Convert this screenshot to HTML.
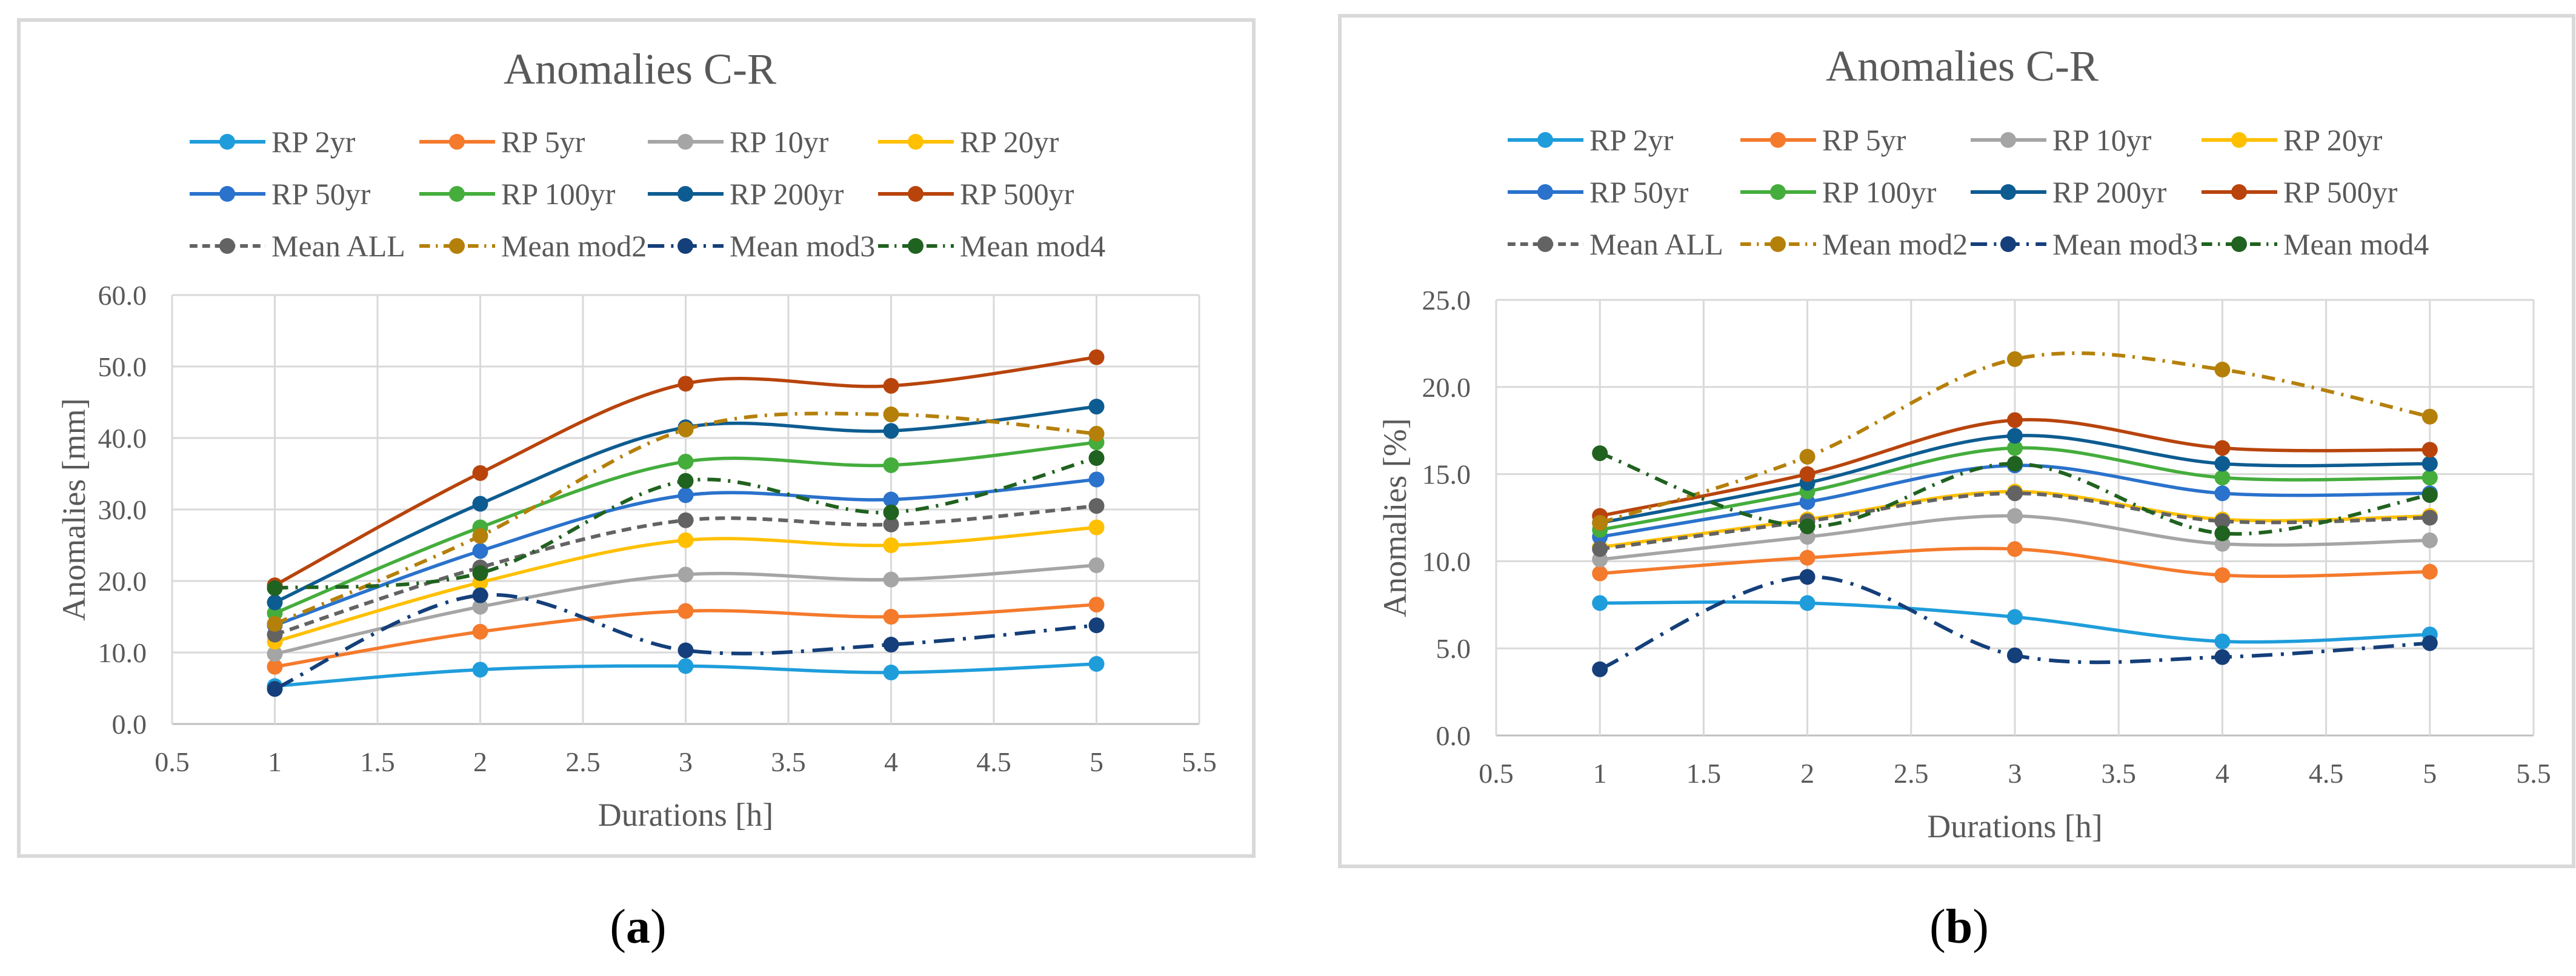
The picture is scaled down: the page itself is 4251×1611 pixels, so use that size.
<!DOCTYPE html>
<html><head><meta charset="utf-8">
<style>
html,body{margin:0;padding:0;background:#fff;}
body{width:4251px;height:1611px;position:relative;overflow:hidden;font-family:"Liberation Serif",serif;}
svg{position:absolute;left:0;top:0;}
</style></head>
<body>
<svg id="fig" width="4251" height="1611" viewBox="0 0 4251 1611"></svg>
<script>
const xValues = [1, 2, 3, 4, 5];
const xTicks = [0.5, 1, 1.5, 2, 2.5, 3, 3.5, 4, 4.5, 5, 5.5];
const seriesNames = ["RP 2yr","RP 5yr","RP 10yr","RP 20yr","RP 50yr","RP 100yr","RP 200yr","RP 500yr","Mean ALL","Mean mod2","Mean mod3","Mean mod4"];
const yTicksA = [0, 10, 20, 30, 40, 50, 60];
const yTicksB = [0, 5, 10, 15, 20, 25];
// Panel (a) values [mm]
const aRP2 = [5.3, 7.6, 8.1, 7.2, 8.4];
const aRP5 = [8.0, 12.9, 15.8, 15.0, 16.7];
const aRP10 = [9.8, 16.4, 20.9, 20.2, 22.2];
const aRP20 = [11.5, 19.8, 25.7, 25.0, 27.5];
const aRP50 = [13.8, 24.2, 32.0, 31.4, 34.2];
const aRP100 = [15.5, 27.5, 36.7, 36.2, 39.4];
const aRP200 = [17.0, 30.8, 41.5, 41.0, 44.4];
const aRP500 = [19.4, 35.1, 47.6, 47.3, 51.3];
const aMeanAll = [12.5, 21.9, 28.5, 27.9, 30.5];
const aMod2 = [14.0, 26.3, 41.2, 43.3, 40.6];
const aMod3 = [4.9, 18.0, 10.3, 11.1, 13.8];
const aMod4 = [19.0, 21.1, 34.0, 29.6, 37.2];
// Panel (b) values [%]
const bRP2 = [7.6, 7.6, 6.8, 5.4, 5.8];
const bRP5 = [9.3, 10.2, 10.7, 9.2, 9.4];
const bRP10 = [10.1, 11.4, 12.6, 11.0, 11.2];
const bRP20 = [10.8, 12.4, 14.0, 12.4, 12.6];
const bRP50 = [11.4, 13.4, 15.5, 13.9, 13.9];
const bRP100 = [11.8, 14.0, 16.5, 14.8, 14.8];
const bRP200 = [12.2, 14.5, 17.2, 15.6, 15.6];
const bRP500 = [12.6, 15.0, 18.1, 16.5, 16.4];
const bMeanAll = [10.7, 12.3, 13.9, 12.3, 12.5];
const bMod2 = [12.2, 16.0, 21.6, 21.0, 18.3];
const bMod3 = [3.8, 9.1, 4.6, 4.5, 5.3];
const bMod4 = [16.2, 12.0, 15.6, 11.6, 13.8];

const colors = ["#1f9ddb","#f47a2c","#a5a5a5","#ffc000","#2a72cc","#44ad3c","#0d5c91","#b8440c","#636363","#b5800a","#143f7a","#20621f"];
const dashes = [null,null,null,null,null,null,null,null,"16 10","22 12 4 12","34 14 5 14","22 12 4 12"];

const NS = "http://www.w3.org/2000/svg";
const svg = document.getElementById("fig");
function mk(tag, attrs, parent){ const e=document.createElementNS(NS,tag); for(const k in attrs) e.setAttribute(k,attrs[k]); (parent||svg).appendChild(e); return e; }

function spline(pts){
  let d = "M"+pts[0][0]+","+pts[0][1];
  for(let i=0;i<pts.length-1;i++){
    const p0=pts[Math.max(0,i-1)], p1=pts[i], p2=pts[i+1], p3=pts[Math.min(pts.length-1,i+2)];
    const t=1/6;
    const c1x=p1[0]+(p2[0]-p0[0])*t, c1y=p1[1]+(p2[1]-p0[1])*t;
    const c2x=p2[0]-(p3[0]-p1[0])*t, c2y=p2[1]-(p3[1]-p1[1])*t;
    d+=" C"+c1x+","+c1y+" "+c2x+","+c2y+" "+p2[0]+","+p2[1];
  }
  return d;
}

function drawPanel(cfg){
  const g = mk("g",{});
  
  
  const frame = mk("rect",{x:cfg.box[0],y:cfg.box[1],width:cfg.box[2],height:cfg.box[3],fill:"#fff",stroke:"#d9d9d9","stroke-width":6},g);
  
  
  const title = mk("text",{x:cfg.titleX,y:cfg.titleY,"font-size":72,fill:"#595959","text-anchor":"middle","font-family":"Liberation Serif, serif"},g);
  title.textContent="Anomalies C-R";
  
  
  const [L,T,R,B] = cfg.plot;
  const xs = v => L + (v-0.5)/5*(R-L);
  const ys = v => B - v/cfg.ymax*(B-T);
  // gridlines
  cfg.yTicks.forEach(v=>{
    const l=mk("line",{x1:L,x2:R,y1:ys(v),y2:ys(v),stroke:v===0?"#bfbfbf":"#d9d9d9","stroke-width":3},g);
    
    
    const t=mk("text",{x:L-42,y:ys(v)+16,"font-size":46,fill:"#595959","text-anchor":"end"},g);
    t.textContent=v.toFixed(1);
    
    
  });
  xTicks.forEach(v=>{
    const l=mk("line",{x1:xs(v),x2:xs(v),y1:T,y2:B,stroke:"#d9d9d9","stroke-width":3},g);
    
    
    const t=mk("text",{x:xs(v),y:B+78,"font-size":46,fill:"#595959","text-anchor":"middle"},g);
    t.textContent=String(v);
    
    
  });
  const xt=mk("text",{x:(L+R)/2,y:B+168,"font-size":54,fill:"#595959","text-anchor":"middle"},g);
  xt.textContent="Durations [h]";
  
  
  const ytc=(T+B)/2;
  const yt=mk("text",{x:cfg.yTitleX,y:ytc,"font-size":54,fill:"#595959","text-anchor":"middle",transform:"rotate(-90 "+cfg.yTitleX+" "+ytc+")"},g);
  yt.textContent=cfg.yTitle;
  
  
  // series
  cfg.data.forEach((arr,i)=>{
    const sg=mk("g",{},g);
    
    
    const pts=arr.map((v,j)=>[xs(xValues[j]),ys(v)]);
    const p=mk("path",{d:spline(pts),fill:"none",stroke:colors[i],"stroke-width":dashes[i]?6:5.5,"stroke-linecap":"butt"},sg);
    if(dashes[i]) p.setAttribute("stroke-dasharray",dashes[i]);
    
    
    pts.forEach(q=>{
      const c=mk("circle",{cx:q[0],cy:q[1],r:13,fill:colors[i]},sg);
      
      
    });
  });
  // legend
  seriesNames.forEach((n,i)=>{
    const row=Math.floor(i/4), col=i%4;
    const lx=cfg.legX[col], ly=cfg.legY[row];
    const lg=mk("g",{},g);
    
    
    const l=mk("line",{x1:lx,x2:lx+125,y1:ly,y2:ly,stroke:colors[i],"stroke-width":6},lg);
    if(dashes[i]) l.setAttribute("stroke-dasharray",dashes[i].split(" ").map(x=>x*0.8).join(" "));
    mk("circle",{cx:lx+62,cy:ly,r:13,fill:colors[i]},lg);
    const t=mk("text",{x:lx+135,y:ly+17,"font-size":50,fill:"#595959"},lg);
    t.textContent=n;
  });
  const cap=mk("text",{x:cfg.capX,y:1556,"font-size":80,fill:"#000","text-anchor":"middle"},g);
  cap.innerHTML='(<tspan font-weight="bold">'+cfg.cap+'</tspan>)';
  
  
}

drawPanel({name:"chart-a",box:[31,33,2038,1380],titleX:1056,titleY:138,plot:[284,487,1979,1195],ymax:60,yTicks:yTicksA,
  yTitle:"Anomalies  [mm]",yTitleX:140,legX:[313,692,1069,1449],legY:[234,320,406],capX:1053,cap:"a",
  data:[aRP2,aRP5,aRP10,aRP20,aRP50,aRP100,aRP200,aRP500,aMeanAll,aMod2,aMod3,aMod4]});
drawPanel({name:"chart-b",box:[2211,26,2036,1404],titleX:3238,titleY:133,plot:[2469,495,4181,1214],ymax:25,yTicks:yTicksB,
  yTitle:"Anomalies  [%]",yTitleX:2320,legX:[2488,2872,3252,3633],legY:[231,317,403],capX:3233,cap:"b",
  data:[bRP2,bRP5,bRP10,bRP20,bRP50,bRP100,bRP200,bRP500,bMeanAll,bMod2,bMod3,bMod4]});
</script>
</body></html>
